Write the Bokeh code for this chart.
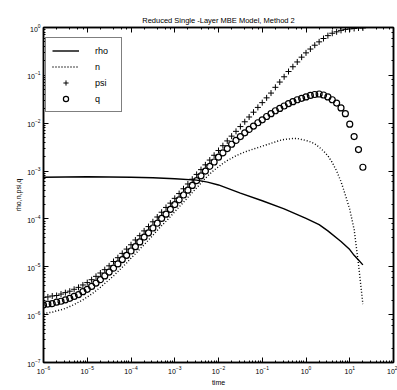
import numpy as np
from bokeh.plotting import figure
from bokeh.models import LogAxis, Legend, LegendItem, Range1d
from bokeh.embed import file_html
from bokeh.resources import INLINE

# log10(time) sampling of the marker series
log_t = [-6.0, -5.9, -5.8, -5.7, -5.6, -5.5, -5.4, -5.3, -5.2, -5.1,
         -5.0, -4.9, -4.8, -4.7, -4.6, -4.5, -4.4, -4.3, -4.2, -4.1,
         -4.0, -3.9, -3.8, -3.7, -3.6, -3.5, -3.4, -3.3, -3.2, -3.1,
         -3.0, -2.9, -2.8, -2.7, -2.6, -2.5, -2.4, -2.3, -2.2, -2.1,
         -2.0, -1.9, -1.8, -1.7, -1.6, -1.5, -1.4, -1.3, -1.2, -1.1,
         -1.0, -0.9, -0.8, -0.7, -0.6, -0.5, -0.4, -0.3, -0.2, -0.1,
         0.0, 0.1, 0.2, 0.3, 0.4, 0.5, 0.6, 0.7, 0.8, 0.9,
         1.0, 1.1, 1.2, 1.3]

# log10(psi)
psi_log = [-5.64, -5.63, -5.61, -5.60, -5.57, -5.54, -5.51, -5.47, -5.43, -5.38,
           -5.33, -5.27, -5.20, -5.13, -5.06, -4.98, -4.89, -4.81, -4.72, -4.63,
           -4.54, -4.44, -4.35, -4.25, -4.16, -4.06, -3.96, -3.86, -3.76, -3.67,
           -3.57, -3.47, -3.37, -3.27, -3.17, -3.07, -2.97, -2.87, -2.77, -2.67,
           -2.57, -2.47, -2.37, -2.27, -2.17, -2.07, -1.97, -1.87, -1.77, -1.67,
           -1.57, -1.47, -1.37, -1.25, -1.14, -1.03, -0.92, -0.82, -0.72, -0.62,
           -0.53, -0.45, -0.37, -0.30, -0.23, -0.17, -0.12, -0.09, -0.06, -0.04,
           -0.03, -0.02, -0.01, -0.01]

# log10(q)
q_log = [-5.80, -5.78, -5.77, -5.74, -5.72, -5.69, -5.66, -5.62, -5.58, -5.52,
         -5.47, -5.41, -5.34, -5.27, -5.19, -5.11, -5.03, -4.94, -4.85, -4.76,
         -4.67, -4.58, -4.48, -4.38, -4.29, -4.19, -4.09, -3.99, -3.90, -3.80,
         -3.70, -3.60, -3.50, -3.40, -3.30, -3.20, -3.10, -3.00, -2.90, -2.81,
         -2.71, -2.62, -2.53, -2.44, -2.36, -2.28, -2.20, -2.13, -2.06, -1.99,
         -1.93, -1.86, -1.80, -1.74, -1.69, -1.64, -1.59, -1.55, -1.51, -1.48,
         -1.45, -1.42, -1.40, -1.39, -1.41, -1.45, -1.51, -1.58, -1.68, -1.80,
         -2.02, -2.28, -2.55, -2.92]

# log10(n)
n_log = [-5.98, -5.96, -5.95, -5.92, -5.90, -5.87, -5.83, -5.79, -5.74, -5.69,
         -5.63, -5.57, -5.50, -5.43, -5.35, -5.27, -5.19, -5.10, -5.01, -4.92,
         -4.82, -4.73, -4.63, -4.54, -4.44, -4.34, -4.24, -4.14, -4.05, -3.95,
         -3.85, -3.75, -3.65, -3.55, -3.45, -3.35, -3.25, -3.15, -3.06, -2.98,
         -2.91, -2.84, -2.78, -2.73, -2.68, -2.64, -2.60, -2.57, -2.54, -2.51,
         -2.48, -2.45, -2.42, -2.39, -2.36, -2.34, -2.33, -2.32, -2.32, -2.34,
         -2.36, -2.39, -2.43, -2.50, -2.58, -2.68, -2.82, -3.00, -3.22, -3.50,
         -3.80, -4.22, -4.95, -5.78]

# rho (solid line)
rho_log_t = [-6.0, -5.0, -4.0, -3.5, -3.0, -2.5, -2.25, -2.0, -1.5, -1.0, -0.5,
             0.0, 0.3, 0.5, 0.8, 1.0, 1.1, 1.2, 1.3]
rho_log = [-3.13, -3.12, -3.13, -3.14, -3.16, -3.19, -3.23, -3.29, -3.46, -3.62, -3.79,
           -3.99, -4.12, -4.25, -4.47, -4.64, -4.76, -4.86, -4.96]

title = "Reduced Single -Layer MBE Model, Method 2"
x_label = "time"
y_label = "rho,n,psi,q"
labels = ["rho", "n", "psi", "q"]

t = 10.0 ** np.array(log_t)
psi = 10.0 ** np.array(psi_log)
q = 10.0 ** np.array(q_log)
n = 10.0 ** np.array(n_log)
rho_t = 10.0 ** np.array(rho_log_t)
rho = 10.0 ** np.array(rho_log)

FONT = "Liberation Sans"

p = figure(width=397, height=390, x_axis_type="log", y_axis_type="log",
           x_range=Range1d(1e-6, 1e2), y_range=Range1d(1e-7, 1.0),
           output_backend="svg", toolbar_location=None,
           min_border_left=43, min_border_right=4,
           min_border_top=27, min_border_bottom=28)
p.background_fill_color = "white"
p.border_fill_color = "white"
p.outline_line_color = "black"
p.outline_line_width = 1.5
p.xgrid.visible = False
p.ygrid.visible = False

p.title.text = title
p.title.align = "center"
p.title.text_font = FONT
p.title.text_font_size = "7.5px"
p.title.text_font_style = "normal"
p.title.text_color = "black"
p.title.standoff = 5

for ax in (p.xaxis[0], p.yaxis[0]):
    ax.axis_line_width = 1.5
    ax.axis_line_color = "black"
    ax.major_tick_line_color = "black"
    ax.minor_tick_line_color = "black"
    ax.major_tick_in = 5
    ax.major_tick_out = 0
    ax.minor_tick_in = 2
    ax.minor_tick_out = 0
    ax.major_label_text_font = FONT
    ax.major_label_text_font_size = "7px"
    ax.major_label_text_color = "black"
    ax.axis_label_text_font = FONT
    ax.axis_label_text_font_size = "7px"
    ax.axis_label_text_font_style = "normal"
    ax.axis_label_text_color = "black"

p.xaxis.axis_label = x_label
p.yaxis.axis_label = y_label
p.xaxis.major_label_standoff = 3
p.yaxis.major_label_standoff = 3
p.xaxis.axis_label_standoff = 2
p.yaxis.axis_label_standoff = 2

for loc in ("right", "above"):
    ax = LogAxis(major_tick_in=5, major_tick_out=0, minor_tick_in=2, minor_tick_out=0,
                 major_label_text_font_size="1px", major_label_text_color=None,
                 major_label_standoff=0, axis_line_width=1.5, axis_line_color="black",
                 major_tick_line_color="black", minor_tick_line_color="black")
    p.add_layout(ax, loc)

r_rho = p.line(rho_t, rho, line_color="black", line_width=1.4)
r_n = p.line(t, n, line_color="black", line_width=1.4, line_dash="1 2")
r_psi = p.scatter(t, psi, marker="cross", size=6, line_color="black", line_width=1)
r_q = p.scatter(t, q, marker="circle", size=6, fill_color=None,
                line_color="black", line_width=1.2)

legend = Legend(items=[LegendItem(label=labels[0], renderers=[r_rho]),
                       LegendItem(label=labels[1], renderers=[r_n]),
                       LegendItem(label=labels[2], renderers=[r_psi]),
                       LegendItem(label=labels[3], renderers=[r_q])],
                location=(2, 250))
legend.border_line_color = "black"
legend.border_line_width = 1.2
legend.background_fill_color = "white"
legend.background_fill_alpha = 1.0
legend.label_text_font = FONT
legend.label_text_font_size = "9px"
legend.label_text_color = "black"
legend.glyph_width = 27
legend.glyph_height = 13
legend.label_height = 13
legend.label_standoff = 16
legend.spacing = 3
legend.padding = 6
legend.margin = 0
p.add_layout(legend)

open("out.html", "w").write(file_html(p, INLINE))
